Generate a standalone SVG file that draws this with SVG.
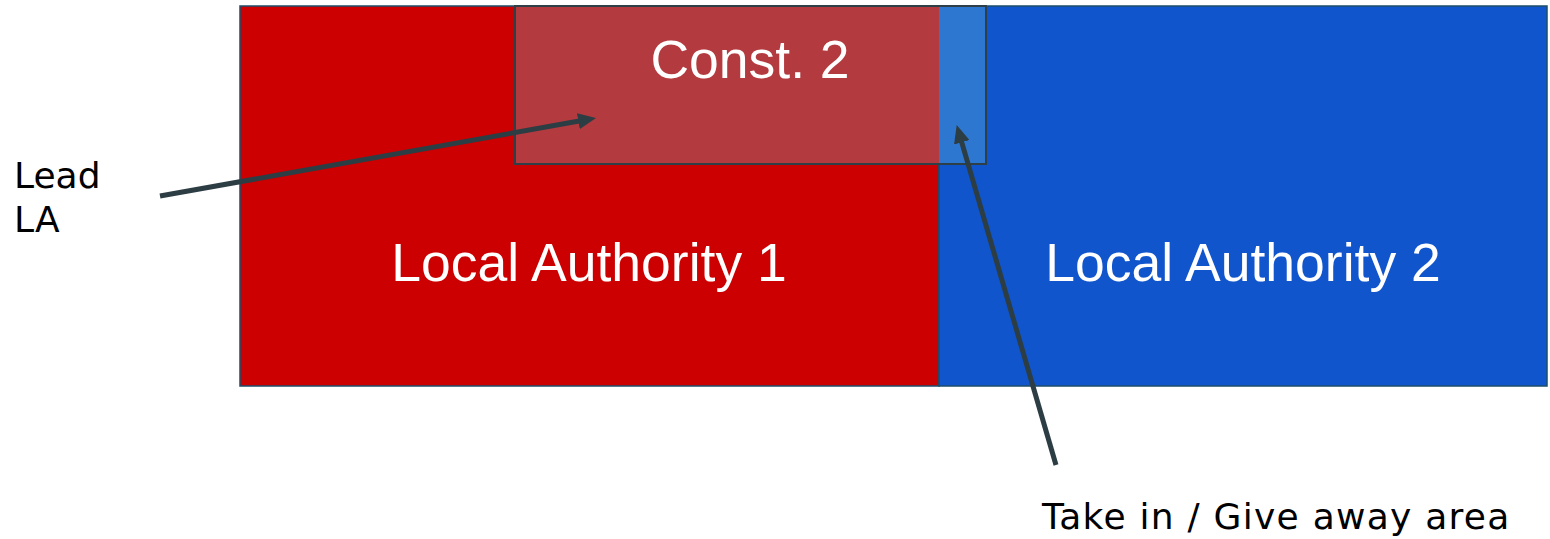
<svg xmlns="http://www.w3.org/2000/svg" width="1550" height="539" viewBox="0 0 1550 539">
<style>
.big{font-family:"Liberation Sans",Arial,sans-serif;font-size:53.5px;fill:#ffffff;text-anchor:middle}
.lbl{font-family:"DejaVu Sans",Verdana,sans-serif;font-size:36px;fill:#000000}
.conn{stroke:#2d3d44;stroke-width:5;fill:none}
</style>
<defs>
<marker id="ah" markerUnits="userSpaceOnUse" markerWidth="18" markerHeight="16" refX="8" refY="8" orient="auto" viewBox="0 0 18 16">
<path d="M0,0 L18,8 L0,16 z" fill="#2d3d44"/>
</marker>
</defs>
<rect width="1550" height="539" fill="#ffffff"/>
<g id="la1">
<rect x="240" y="6" width="699" height="380" fill="#cc0000" stroke="#1d4e6b" stroke-width="1.5"/>
<text class="big" x="589" y="281">Local Authority 1</text>
</g>
<g id="la2">
<rect x="939" y="6" width="608" height="380" fill="#1155cc" stroke="#1d4e6b" stroke-width="1.5"/>
<text class="big" x="1243" y="281">Local Authority 2</text>
</g>
<g id="const2">
<rect x="515" y="6" width="424" height="158" fill="#b33a3e"/>
<rect x="939" y="6" width="47" height="158" fill="#2e77d0"/>
<rect x="515" y="6" width="471" height="158" fill="none" stroke="#2f3f47" stroke-width="2"/>
<text class="big" x="750" y="78">Const. 2</text>
</g>
<g id="lead">
<text class="lbl" x="14" y="188">Lead</text>
<text class="lbl" x="14" y="232">LA</text>
</g>
<g id="takein">
<text class="lbl" x="1042" y="529" letter-spacing="1.25">Take in / Give away area</text>
</g>
<g id="connectors">
<line class="conn" x1="160" y1="196" x2="586.2" y2="119.8" marker-end="url(#ah)"/>
<line class="conn" x1="1056" y1="465" x2="959.5" y2="134.6" marker-end="url(#ah)"/>
</g>
</svg>
